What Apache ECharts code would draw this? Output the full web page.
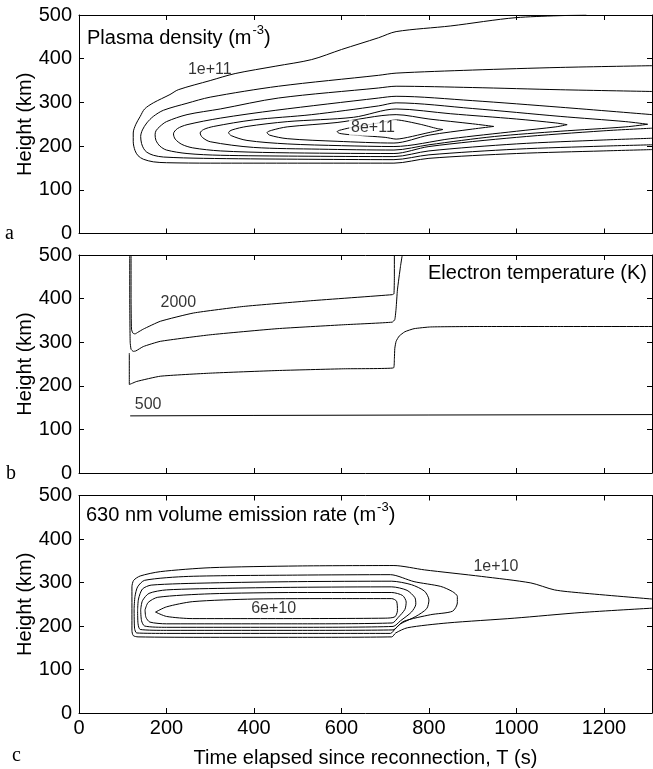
<!DOCTYPE html>
<html>
<head>
<meta charset="utf-8">
<script src="https://cdn.jsdelivr.net/npm/echarts@6/dist/echarts.min.js"></script>
<style>
html,body{margin:0;padding:0;background:#fff;}
#chart{width:653px;height:769px;}
</style>
</head>
<body>
<div id="chart"></div>
<script>
// ---------- axis values ----------
const xMin = 0, xMax = 1310, xStep = 200;
const yMin = 0, yMax = 500, yStep = 100;

// ---------- panel a: plasma density contours [T (s), height (km)] ----------
const dens1 = [[1160,500],[1000,494],[850,475],[725,462],[685,448],[600,421],[532,398],[450,383],[357,366],[300,350],[227,329],[208,318],[170,299],[150,285],[140,268],[130,250],[124,230],[124,210],[128,190],[135,178],[147,170],[170,164],[200,162],[300,161],[500,161],[720,161],[800,172],[1000,183],[1200,189],[1310,192]];
const dens2 = [[1310,384],[1100,380],[900,374],[725,367],[685,362],[456,337],[300,312],[247,298],[193,282],[170,268],[155,253],[145,237],[141,222],[143,206],[148,194],[155,186],[170,179],[193,175],[285,172],[500,170],[720,169],[800,180],[1000,193],[1200,200],[1310,203]];
const dens3 = [[1310,325],[1100,329],[900,334],[725,337],[685,333],[456,310],[323,285],[247,272],[200,256],[185,245],[176,235],[174,226],[176,213],[185,200],[200,191],[247,183],[323,179],[500,177],[720,176],[800,189],[1000,205],[1200,214],[1310,218]];
const dens4 = [[1310,272],[1100,289],[900,304],[725,314],[685,310],[450,282],[323,264],[247,249],[225,240],[216,228],[220,216],[235,204],[260,196],[323,189],[450,185],[720,183],[800,199],[1000,220],[1200,235],[1310,241]];
const dens5 = [[1300,250],[1250,256],[1100,268],[900,286],[725,299],[685,292],[532,272],[399,260],[308,245],[285,238],[277,230],[282,220],[300,210],[399,197],[550,193],[720,191],[800,203],[950,222],[1100,234],[1250,244],[1300,250]];
const dens6 = [[1116,249],[1090,253],[1000,262],[850,274],[725,285],[628,266],[476,256],[384,245],[350,237],[342,231],[348,224],[384,213],[476,205],[600,201],[720,199],[850,217],[1000,234],[1090,244],[1116,249]];
const dens7 = [[948,245],[900,251],[800,262],[725,272],[590,254],[476,244],[440,236],[430,231],[436,225],[476,217],[590,211],[720,207],[800,225],[900,239],[948,245]];
const dens8 = [[832,238],[819,240],[780,250],[725,260],[680,252],[620,242],[595,236],[590,233],[596,229],[620,226],[700,220],[725,216],[800,231],[832,238]];
const densLabelText = ['1e+11', '8e+11'];
const densLabelPos = [[299,375],[672,242]];

// ---------- panel b: electron temperature contours ----------
const te2000 = [[119,500],[119,400],[120,330],[123,321],[128,319],[135,323],[147,330],[186,348],[262,367],[376,382],[529,395],[716,409],[720,411],[721,450],[721,500]];
const te1500 = [[116,500],[116,400],[117,300],[119,284],[124,279],[130,280],[147,290],[186,302],[300,317],[453,331],[605,340],[716,346],[722,352],[725,378],[728,420],[735,474],[739,500]];
const te1000 = [[115,275],[115,203],[120,205],[132,210],[186,222],[300,229],[453,235],[605,239],[719,241],[721,262],[722,286],[725,302],[732,314],[745,324],[766,331],[804,335],[919,336],[1100,336],[1310,336]];
const te500 = [[117,131],[400,132],[800,133],[1310,134]];
const teLabelText = ['2000', '500'];
const teLabelPos = [[227,390],[158,157]];

// ---------- panel c: 630 nm volume emission rate contours ----------
const ver1 = [[1310,262],[1148,276],[1087,283],[1033,299],[920,314],[790,329],[720,339],[500,338],[300,334],[186,325],[140,315],[125,305],[121,290],[121,190],[124,178],[135,175],[300,174],[500,174],[715,175],[724,184],[751,196],[842,207],[995,218],[1148,231],[1310,241]];
const ver2 = [[126,240],[128,268],[134,290],[150,305],[250,314],[500,317],[712,318],[766,302],[827,291],[854,279],[865,268],[865,253],[854,234],[804,226],[743,211],[724,195],[712,183],[500,183],[200,183],[132,184],[127,195],[126,240]];
const ver3 = [[134,237],[136,262],[145,285],[165,294],[300,299],[500,302],[715,303],[760,295],[790,280],[800,260],[795,240],[770,222],[735,205],[718,191],[500,190],[200,190],[140,192],[135,205],[134,237]];
const ver4 = [[141,237],[145,258],[160,275],[200,283],[350,287],[500,289],[715,290],[750,282],[768,265],[770,250],[760,232],[735,212],[718,199],[500,197],[200,197],[150,200],[143,212],[141,237]];
const ver5 = [[151,237],[158,254],[180,266],[300,274],[500,277],[715,277],[740,270],[748,255],[745,238],[730,220],[716,207],[500,205],[200,205],[162,209],[153,220],[151,237]];
const ver6 = [[175,232],[200,244],[260,256],[400,262],[600,263],[715,263],[726,257],[728,235],[722,221],[700,218],[400,217],[260,217],[200,222],[175,232]];
const verLabelText = ['1e+10', '6e+10'];
const verLabelPos = [[953,336],[445,240]];

// ---------- chart construction ----------
const FONT = '"Liberation Sans", Arial, Helvetica, sans-serif';
const gridTops = [15, 255, 495.5];
const gridH = [218.5, 218, 218];

const grids = gridTops.map((t, i) => ({ left: 79, right: 1, top: t, height: gridH[i], containLabel: false }));

const tick = { inside: true, length: 5, lineStyle: { color: '#000', width: 1 } };
const line = { show: true, onZero: false, lineStyle: { color: '#000', width: 1 } };

const xAxes = [], yAxes = [];
for (let i = 0; i < 3; i++) {
  xAxes.push({
    type: 'value', gridIndex: i, min: xMin, max: xMax, interval: xStep, position: 'bottom',
    axisLine: line, axisTick: tick, splitLine: { show: false },
    axisLabel: { show: i === 2, color: '#000', fontSize: 20, fontFamily: FONT, margin: 5, showMaxLabel: false,
                 formatter: v => String(v) },
    name: i === 2 ? 'Time elapsed since reconnection, T (s)' : '',
    nameLocation: 'middle', nameGap: 35,
    nameTextStyle: { color: '#000', fontSize: 20, fontFamily: FONT }
  });
  xAxes.push({
    type: 'value', gridIndex: i, min: xMin, max: xMax, interval: xStep, position: 'top',
    axisLine: line, axisTick: tick, splitLine: { show: false }, axisLabel: { show: false }
  });
  yAxes.push({
    type: 'value', gridIndex: i, min: yMin, max: yMax, interval: yStep, position: 'left',
    axisLine: line, axisTick: tick, splitLine: { show: false },
    axisLabel: { color: '#000', fontSize: 20, fontFamily: FONT, margin: 7, formatter: v => String(v) },
    name: 'Height (km)', nameLocation: 'middle', nameGap: 44, nameMoveOverlap: false,
    nameTextStyle: { color: '#000', fontSize: 20, fontFamily: FONT }
  });
  yAxes.push({
    type: 'value', gridIndex: i, min: yMin, max: yMax, interval: yStep, position: 'right',
    axisLine: line, axisTick: tick, splitLine: { show: false }, axisLabel: { show: false }
  });
}

function contour(data, panel, smooth) {
  return {
    type: 'line', data: data, xAxisIndex: panel * 2, yAxisIndex: panel * 2,
    showSymbol: false, symbol: 'none', smooth: smooth, clip: true,
    lineStyle: { color: '#000', width: 1 }, silent: true, z: 2
  };
}
function labels(pos, text, panel, bg) {
  return {
    type: 'scatter', xAxisIndex: panel * 2, yAxisIndex: panel * 2, silent: true, z: 5,
    symbolSize: 1, itemStyle: { color: 'rgba(0,0,0,0)' },
    data: pos.map((p, k) => ({ value: p, label: {
      show: true, position: 'inside', formatter: text[k], color: '#000', fontSize: 16, fontFamily: FONT,
      backgroundColor: bg[k] ? '#fff' : 'transparent', padding: bg[k] ? [0, 2] : 0
    } }))
  };
}

const series = [
  contour(dens1, 0, 0.3), contour(dens2, 0, 0.3), contour(dens3, 0, 0.3), contour(dens4, 0, 0.3),
  contour(dens5, 0, 0.3), contour(dens6, 0, 0.3), contour(dens7, 0, 0.3), contour(dens8, 0, 0.2),
  labels(densLabelPos, densLabelText, 0, [false, true]),
  contour(te2000, 1, 0.15), contour(te1500, 1, 0.15), contour(te1000, 1, 0.15), contour(te500, 1, false),
  labels(teLabelPos, teLabelText, 1, [false, false]),
  contour(ver1, 2, 0.25), contour(ver2, 2, 0.25), contour(ver3, 2, 0.25),
  contour(ver4, 2, 0.25), contour(ver5, 2, 0.25), contour(ver6, 2, 0.25),
  labels(verLabelPos, verLabelText, 2, [false, false])
];

const richT = { t: { fontSize: 20, fontFamily: FONT, fontWeight: 'normal', color: '#000', lineHeight: 24, verticalAlign: 'bottom' },
                s: { fontSize: 13, fontFamily: FONT, fontWeight: 'normal', color: '#000', lineHeight: 24, verticalAlign: 'top', padding: [0, 0, 0, 1] } };

const option = {
  animation: false,
  backgroundColor: '#fff',
  grid: grids,
  xAxis: xAxes,
  yAxis: yAxes,
  title: [
    { text: '{t|Plasma density (m}{s|-3}{t|)}', left: 87, top: 24, padding: 0,
      textStyle: { fontWeight: 'normal', rich: richT } },
    { text: 'Electron temperature (K)', right: 6, top: 263, padding: 0,
      textStyle: { fontSize: 20, fontFamily: FONT, color: '#000', fontWeight: 'normal' } },
    { text: '{t|630 nm volume emission rate (m}{s|-3}{t|)}', left: 86, top: 501, padding: 0,
      textStyle: { fontWeight: 'normal', rich: richT } }
  ],
  graphic: [
    { type: 'text', left: 5, top: 224, style: { text: 'a', font: '20px "Liberation Serif", "DejaVu Serif", serif', fill: '#000' } },
    { type: 'text', left: 6, top: 464, style: { text: 'b', font: '20px "Liberation Serif", "DejaVu Serif", serif', fill: '#000' } },
    { type: 'text', left: 12, top: 746, style: { text: 'c', font: '20px "Liberation Serif", "DejaVu Serif", serif', fill: '#000' } }
  ],
  series: series
};

const chart = echarts.init(document.getElementById('chart'), null, { renderer: 'canvas' });
chart.setOption(option);
</script>
</body>
</html>
